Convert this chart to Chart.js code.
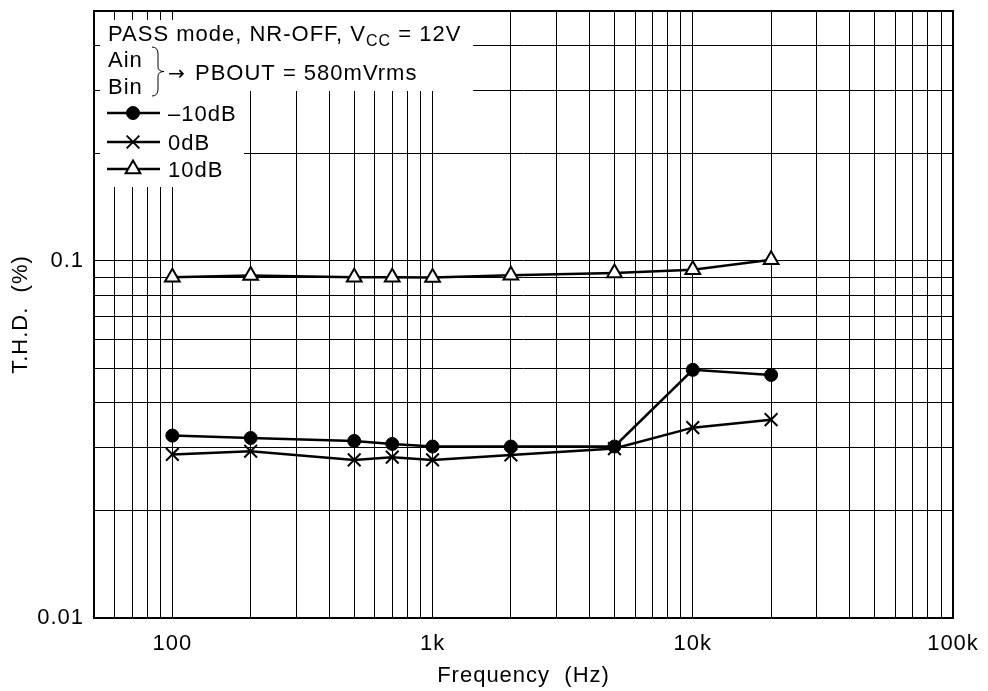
<!DOCTYPE html>
<html>
<head>
<meta charset="utf-8">
<script src="https://cdn.jsdelivr.net/npm/chart.js@4/dist/chart.umd.min.js"></script>
<style>
  html, body { margin: 0; padding: 0; background: #fff; }
  #wrap { width: 988px; height: 691px; }
</style>
</head>
<body>
<div id="wrap"><canvas id="thdChart" width="988" height="691"></canvas></div>
<script>
// 測定周波数 (Hz)
const freqs = [100, 200, 500, 700, 1000, 2000, 5000, 10000, 20000];

// T.H.D. (%) 各入力レベル
const thdMinus10 = [0.0324, 0.0319, 0.0313, 0.0307, 0.0302, 0.0302, 0.0302, 0.0495, 0.0479];
const thd0dB     = [0.0287, 0.0293, 0.0277, 0.0282, 0.0277, 0.0286, 0.0298, 0.0341, 0.0359];
const thd10dB    = [0.0899, 0.0909, 0.0899, 0.0899, 0.0897, 0.0910, 0.0924, 0.0944, 0.1006];

const seriesNames = ['\u201310dB', '0dB', '10dB'];

// 目盛ラベル
const xTickValues = [100, 1000, 10000, 100000];
const xTickLabels = ['100', '1k', '10k', '100k'];
const yTickValues = [0.01, 0.1];
const yTickLabels = ['0.01', '0.1'];

// グリッド線 (対数目盛)
const xGridTicks = [50, 60, 70, 80, 90];
[100, 1000, 10000].forEach(d => { for (let m = 1; m <= 9; m++) xGridTicks.push(d * m); });
xGridTicks.push(100000);
const yGridTicks = [];
[0.01, 0.1].forEach(d => { for (let m = 1; m <= 9; m++) yGridTicks.push(+(d * m).toFixed(3)); });
yGridTicks.push(0.5);

const FONT = '"Liberation Sans", Arial, sans-serif';

function labelFor(values, labels, v) {
    for (let i = 0; i < values.length; i++) {
        if (Math.abs(values[i] - v) / values[i] < 1e-6) return labels[i];
    }
    return '';
}

const pointStyles = [
    { pointStyle: 'circle',   radius: 6.5, borderWidth: 1, fill: '#000' },
    { pointStyle: 'crossRot', radius: 9,   borderWidth: 2, fill: '#000' },
    { pointStyle: 'triangle', radius: 8.5, borderWidth: 2, fill: '#fff' }
];

function makeDataset(name, values, ps) {
    return {
        label: name,
        data: freqs.map((f, i) => ({ x: f, y: values[i] })),
        borderColor: '#000',
        borderWidth: 2.5,
        backgroundColor: ps.fill,
        pointStyle: ps.pointStyle,
        pointRadius: ps.radius,
        pointBorderWidth: ps.borderWidth,
        pointBackgroundColor: ps.fill,
        pointBorderColor: '#000',
        tension: 0
    };
}

// 凡例・注記ボックス
const annotationPlugin = {
    id: 'annotations',
    beforeDraw(chart) {
        // 原図の字間に合わせる
        chart.ctx.letterSpacing = '1px';
    },
    beforeDatasetsDraw(chart) {
        const ctx = chart.ctx;
        const a = chart.chartArea;
        ctx.save();
        // 白地 (グリッドを隠す)
        ctx.fillStyle = '#fff';
        ctx.fillRect(a.left + 6, a.top + 9, 144, 167);
        ctx.fillRect(a.left + 150, a.top + 1, 229, 79);

        ctx.fillStyle = '#000';
        ctx.textBaseline = 'alphabetic';
        ctx.textAlign = 'left';

        // タイトル行
        let x = a.left + 14;
        const y0 = a.top + 30;
        ctx.font = '22px ' + FONT;
        ctx.fillText('PASS mode, NR-OFF, V', x, y0);
        x += ctx.measureText('PASS mode, NR-OFF, V').width;
        ctx.font = '16px ' + FONT;
        ctx.fillText('CC', x, y0 + 5);
        x += ctx.measureText('CC').width;
        ctx.font = '22px ' + FONT;
        ctx.fillText(' = 12V', x, y0);

        // Ain / Bin
        ctx.fillText('Ain', a.left + 14, a.top + 56);
        ctx.fillText('Bin', a.left + 14, a.top + 83);
        // 波括弧
        const bx = a.left + 58, by1 = a.top + 36, by2 = a.top + 85, bm = (by1 + by2) / 2;
        ctx.lineWidth = 1;
        ctx.strokeStyle = '#000';
        ctx.beginPath();
        ctx.moveTo(bx, by1);
        ctx.quadraticCurveTo(bx + 6, by1, bx + 6, by1 + 7);
        ctx.lineTo(bx + 6, bm - 5);
        ctx.quadraticCurveTo(bx + 6, bm, bx + 12, bm);
        ctx.quadraticCurveTo(bx + 6, bm, bx + 6, bm + 5);
        ctx.lineTo(bx + 6, by2 - 7);
        ctx.quadraticCurveTo(bx + 6, by2, bx, by2);
        ctx.stroke();
        ctx.letterSpacing = '0px';
        ctx.font = '20px "DejaVu Sans", sans-serif';
        ctx.fillText('\u2192', a.left + 74, a.top + 69);
        ctx.letterSpacing = '1px';
        ctx.font = '22px ' + FONT;
        ctx.fillText('PBOUT = 580mVrms', a.left + 101, a.top + 69);

        // 凡例
        const legendY = [a.top + 102, a.top + 131, a.top + 158];
        seriesNames.forEach((name, i) => {
            const ly = legendY[i];
            ctx.lineWidth = 2.5;
            ctx.strokeStyle = '#000';
            ctx.beginPath();
            ctx.moveTo(a.left + 13, ly);
            ctx.lineTo(a.left + 66, ly);
            ctx.stroke();
            const ps = pointStyles[i];
            ctx.fillStyle = ps.fill;
            ctx.strokeStyle = '#000';
            ctx.lineWidth = ps.borderWidth;
            Chart.helpers.drawPoint(ctx, {
                pointStyle: ps.pointStyle, radius: ps.radius, rotation: 0, borderWidth: ps.borderWidth
            }, a.left + 39, ly);
            ctx.fillStyle = '#000';
            ctx.font = '22px ' + FONT;
            ctx.fillText(name, a.left + 74, ly + 8);
        });
        ctx.restore();
    },
    afterDraw(chart) {
        const ctx = chart.ctx;
        const a = chart.chartArea;
        ctx.save();
        ctx.strokeStyle = '#000';
        ctx.lineWidth = 2;
        ctx.strokeRect(a.left, a.top, a.right - a.left, a.bottom - a.top);
        ctx.restore();
    }
};

new Chart(document.getElementById('thdChart'), {
    type: 'line',
    data: {
        datasets: [
            makeDataset(seriesNames[0], thdMinus10, pointStyles[0]),
            makeDataset(seriesNames[1], thd0dB, pointStyles[1]),
            makeDataset(seriesNames[2], thd10dB, pointStyles[2])
        ]
    },
    options: {
        responsive: false,
        animation: false,
        layout: { padding: { top: 6, right: 35, left: 0, bottom: 0 } },
        plugins: {
            legend: { display: false },
            tooltip: { enabled: false }
        },
        scales: {
            x: {
                type: 'logarithmic',
                min: 50,
                max: 100000,
                afterBuildTicks: scale => { scale.ticks = xGridTicks.map(v => ({ value: v })); },
                afterFit: scale => {
                    scale.height = 73;
                    scale.paddingLeft = 0;
                    scale.paddingRight = 0;
                },
                grid: { color: '#000', lineWidth: 1, drawTicks: false },
                border: { display: false },
                ticks: {
                    autoSkip: false,
                    maxRotation: 0,
                    padding: 13,
                    color: '#000',
                    font: { family: FONT, size: 22 },
                    callback: v => labelFor(xTickValues, xTickLabels, v)
                },
                title: {
                    display: true,
                    text: 'Frequency  (Hz)',
                    color: '#000',
                    font: { family: FONT, size: 22 },
                    padding: { top: 0, bottom: 2 }
                }
            },
            y: {
                type: 'logarithmic',
                min: 0.01,
                max: 0.5,
                afterBuildTicks: scale => { scale.ticks = yGridTicks.map(v => ({ value: v })); },
                afterFit: scale => {
                    scale.width = 94;
                    scale.paddingTop = 0;
                    scale.paddingBottom = 0;
                },
                grid: { color: '#000', lineWidth: 1, drawTicks: false },
                border: { display: false },
                ticks: {
                    autoSkip: false,
                    padding: 10,
                    color: '#000',
                    font: { family: FONT, size: 22 },
                    callback: v => labelFor(yTickValues, yTickLabels, v)
                },
                title: {
                    display: true,
                    text: 'T.H.D.  (%)',
                    color: '#000',
                    font: { family: FONT, size: 22 },
                    padding: { top: 8, bottom: 0 }
                }
            }
        }
    },
    plugins: [annotationPlugin]
});
</script>
</body>
</html>
